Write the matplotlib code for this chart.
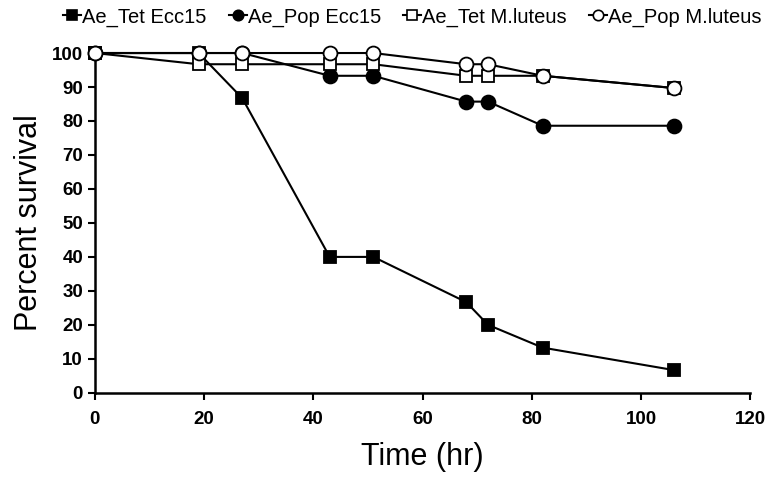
import matplotlib
matplotlib.use("Agg")
import matplotlib.pyplot as plt
from matplotlib.lines import Line2D

plt.rcParams['font.family'] = ['Liberation Sans', 'DejaVu Sans']

time_hr = [0, 19, 27, 43, 51, 68, 72, 82, 106]
tet_ecc15 = [100, 100, 86.7, 40, 40, 26.7, 20, 13.3, 6.7]
pop_ecc15 = [100, 100, 100, 93.3, 93.3, 85.7, 85.7, 78.6, 78.6]
tet_mlut = [100, 96.7, 96.7, 96.7, 96.7, 93.3, 93.3, 93.3, 89.7]
pop_mlut = [100, 100, 100, 100, 100, 96.7, 96.7, 93.3, 89.7]
labels = ["Ae_Tet Ecc15", "Ae_Pop Ecc15", "Ae_Tet M.luteus", "Ae_Pop M.luteus"]
xticks = [0, 20, 40, 60, 80, 100, 120]
yticks = list(range(0, 101, 10))

fig = plt.figure(figsize=(7.71, 4.82), dpi=100)
ax = fig.add_axes([0.123, 0.185, 0.850, 0.705])

series = [
    (tet_ecc15, 's', 'black', labels[0]),
    (pop_ecc15, 'o', 'black', labels[1]),
    (tet_mlut, 's', 'white', labels[2]),
    (pop_mlut, 'o', 'white', labels[3]),
]
handles = []
for i, (vals, mk, fc, lab) in enumerate(series):
    ax.plot(time_hr, vals, color='black', lw=1.5, marker=mk,
            markersize=10 if mk == 'o' else 9,
            markerfacecolor=fc, markeredgecolor='black', markeredgewidth=1.3,
            clip_on=False, zorder=3 + i)
    handles.append(Line2D([0], [0], color='black', lw=1.5, marker=mk, markersize=7.5,
                          markerfacecolor=fc, markeredgecolor='black', markeredgewidth=1.2,
                          label=lab))

ax.set_xlim(0, 120)
ax.set_ylim(0, 100)
ax.set_xticks(xticks)
ax.set_yticks(yticks)
ax.spines['top'].set_visible(False)
ax.spines['right'].set_visible(False)
ax.spines['left'].set_linewidth(1.8)
ax.spines['bottom'].set_linewidth(1.8)
ax.tick_params(axis='both', direction='out', length=5, width=1.5, labelsize=13.5)
for t in ax.get_xticklabels() + ax.get_yticklabels():
    t.set_fontweight('bold')
ax.tick_params(axis='x', pad=8)
ax.set_xlabel("Time (hr)", fontsize=22, labelpad=10)
ax.set_ylabel("Percent survival", fontsize=22, labelpad=6)

fig.legend(handles=handles, loc='upper center', bbox_to_anchor=(0.535, 1.01), ncol=4,
           frameon=False, fontsize=14.5, handlelength=0.9, handletextpad=0.05,
           columnspacing=1.1, borderaxespad=0.2)

fig.savefig("out.png", dpi=100)
